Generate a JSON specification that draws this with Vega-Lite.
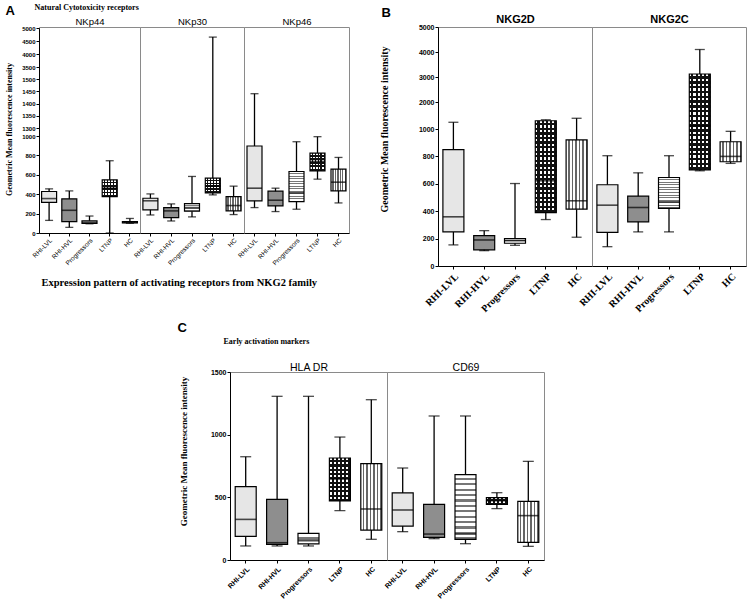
{
"$schema":"https://vega.github.io/schema/vega-lite/v6.json",
"padding":{"left":4,"top":2,"right":0,"bottom":0},
"background":"white",
"datasets":{"d":[
{"m":"NKp44","g":"RHI-LVL","lo":130,"q1":315,"med":355,"q3":428,"hi":455},
{"m":"NKp44","g":"RHI-HVL","lo":58,"q1":117,"med":234,"q3":352,"hi":434},
{"m":"NKp44","g":"Progressors","lo":95,"q1":100,"med":110,"q3":125,"hi":175},
{"m":"NKp44","g":"LTNP","lo":0,"q1":376,"med":462,"q3":548,"hi":745},
{"m":"NKp44","g":"HC","lo":100,"q1":103,"med":110,"q3":117,"hi":150},
{"m":"NKp30","g":"RHI-LVL","lo":186,"q1":238,"med":332,"q3":358,"hi":403},
{"m":"NKp30","g":"RHI-HVL","lo":124,"q1":159,"med":228,"q3":262,"hi":300},
{"m":"NKp30","g":"Progressors","lo":166,"q1":224,"med":262,"q3":303,"hi":583},
{"m":"NKp30","g":"LTNP","lo":393,"q1":414,"med":483,"q3":566,"hi":4650},
{"m":"NKp30","g":"HC","lo":190,"q1":228,"med":283,"q3":376,"hi":483},
{"m":"NKp46","g":"RHI-LVL","lo":262,"q1":331,"med":462,"q3":897,"hi":1440},
{"m":"NKp46","g":"RHI-HVL","lo":221,"q1":279,"med":338,"q3":431,"hi":462},
{"m":"NKp46","g":"Progressors","lo":245,"q1":324,"med":414,"q3":634,"hi":941},
{"m":"NKp46","g":"LTNP","lo":555,"q1":641,"med":738,"q3":824,"hi":993},
{"m":"NKp46","g":"HC","lo":310,"q1":434,"med":524,"q3":659,"hi":779},
{"m":"NKG2D","g":"RHI-LVL","lo":154,"q1":249,"med":359,"q3":849,"hi":1190},
{"m":"NKG2D","g":"RHI-HVL","lo":112,"q1":118,"med":190,"q3":222,"hi":258},
{"m":"NKG2D","g":"Progressors","lo":151,"q1":166,"med":185,"q3":200,"hi":602},
{"m":"NKG2D","g":"LTNP","lo":339,"q1":390,"med":622,"q3":1250,"hi":1290},
{"m":"NKG2D","g":"HC","lo":210,"q1":415,"med":476,"q3":920,"hi":1350},
{"m":"NKG2C","g":"RHI-LVL","lo":141,"q1":246,"med":444,"q3":593,"hi":805},
{"m":"NKG2C","g":"RHI-HVL","lo":249,"q1":322,"med":427,"q3":510,"hi":680},
{"m":"NKG2C","g":"Progressors","lo":249,"q1":420,"med":468,"q3":646,"hi":805},
{"m":"NKG2C","g":"LTNP","lo":695,"q1":702,"med":1050,"q3":3120,"hi":4100},
{"m":"NKG2C","g":"HC","lo":749,"q1":761,"med":800,"q3":907,"hi":983},
{"m":"HLA DR","g":"RHI-LVL","lo":112,"q1":189,"med":324,"q3":585,"hi":824},
{"m":"HLA DR","g":"RHI-HVL","lo":112,"q1":125,"med":138,"q3":484,"hi":1306},
{"m":"HLA DR","g":"Progressors","lo":112,"q1":128,"med":154,"q3":213,"hi":1306},
{"m":"HLA DR","g":"LTNP","lo":394,"q1":471,"med":646,"q3":814,"hi":981},
{"m":"HLA DR","g":"HC","lo":165,"q1":239,"med":407,"q3":769,"hi":1279},
{"m":"CD69","g":"RHI-LVL","lo":226,"q1":271,"med":399,"q3":535,"hi":734},
{"m":"CD69","g":"RHI-HVL","lo":170,"q1":181,"med":207,"q3":444,"hi":1149},
{"m":"CD69","g":"Progressors","lo":130,"q1":165,"med":207,"q3":681,"hi":1149},
{"m":"CD69","g":"LTNP","lo":410,"q1":444,"med":473,"q3":497,"hi":537},
{"m":"CD69","g":"HC","lo":109,"q1":141,"med":354,"q3":468,"hi":787}
]},
"data":{"name":"d"},
"bounds":"flush",
"spacing":345,
"vconcat":[
{"spacing":0,"bounds":"flush","hconcat":[
{"width":101,"height":206,"transform":[{"filter":"datum.m==='NKp44'"}],
"resolve":{"axis":{"x":"independent","y":"independent"}},
"layer":[
{"mark":{"type":"rule","color":"black","strokeWidth":1.3},"encoding":{"x":{"field":"g","type":"nominal","scale":{"type":"band","domain":["RHI-LVL","RHI-HVL","Progressors","LTNP","HC"],"paddingInner":0,"paddingOuter":0},"axis":{"title":null,"labelAngle":-45,"labelFont":"Liberation Sans","labelFontSize":6.5,"tickSize":3,"labelPadding":1}},"y":{"field":"lo","type":"quantitative","scale":{"domain":[0,1000,1300,1500,3500,5000],"range":[206,109,101,52,40,1],"nice":false,"zero":false},"axis":{"values":[0,200,400,600,800,1000,1300,1350,1400,1450,1500,3500,4000,4500,5000],"format":"d","title":"Geometric Mean fluorescence intensity","titleFont":"Liberation Serif","titleFontSize":8,"titleFontWeight":"bold","titleX":-30,"titleY":102,"titleAlign":"center","titleBaseline":"middle","titleAngle":-90,"labelFont":"Liberation Sans","labelFontSize":6,"labelFontWeight":"bold","tickSize":3,"labelPadding":1}},"y2":{"field":"hi"}}},
{"mark":{"type":"bar","size":15},"encoding":{"x":{"field":"g","type":"nominal","scale":{"type":"band","domain":["RHI-LVL","RHI-HVL","Progressors","LTNP","HC"],"paddingInner":0,"paddingOuter":0},"axis":null},"y":{"field":"q1","type":"quantitative","scale":{"domain":[0,1000,1300,1500,3500,5000],"range":[206,109,101,52,40,1],"nice":false,"zero":false},"axis":null},"y2":{"field":"q3"},"color":{"field":"g","type":"nominal","scale":{"domain":["RHI-LVL","RHI-HVL","Progressors","LTNP","HC"],"range":["#e6e6e6","#8e8e8e","#ffffff","#ffffff","#ffffff"]},"legend":null}}},
{"transform":[{"filter":"datum.g==='Progressors'"}],"mark":{"type":"bar","size":15,"fill":{"gradient":"linear","x1":0,"y1":0,"x2":0,"y2":1,"stops":[{"offset":0,"color":"#fff"},{"offset":0.05,"color":"#fff"},{"offset":0.05,"color":"#777"},{"offset":0.0833,"color":"#777"},{"offset":0.0833,"color":"#fff"},{"offset":0.1333,"color":"#fff"},{"offset":0.1333,"color":"#777"},{"offset":0.1667,"color":"#777"},{"offset":0.1667,"color":"#fff"},{"offset":0.2167,"color":"#fff"},{"offset":0.2167,"color":"#777"},{"offset":0.25,"color":"#777"},{"offset":0.25,"color":"#fff"},{"offset":0.3,"color":"#fff"},{"offset":0.3,"color":"#777"},{"offset":0.3333,"color":"#777"},{"offset":0.3333,"color":"#fff"},{"offset":0.3833,"color":"#fff"},{"offset":0.3833,"color":"#777"},{"offset":0.4167,"color":"#777"},{"offset":0.4167,"color":"#fff"},{"offset":0.4667,"color":"#fff"},{"offset":0.4667,"color":"#777"},{"offset":0.5,"color":"#777"},{"offset":0.5,"color":"#fff"},{"offset":0.55,"color":"#fff"},{"offset":0.55,"color":"#777"},{"offset":0.5833,"color":"#777"},{"offset":0.5833,"color":"#fff"},{"offset":0.6333,"color":"#fff"},{"offset":0.6333,"color":"#777"},{"offset":0.6667,"color":"#777"},{"offset":0.6667,"color":"#fff"},{"offset":0.7167,"color":"#fff"},{"offset":0.7167,"color":"#777"},{"offset":0.75,"color":"#777"},{"offset":0.75,"color":"#fff"},{"offset":0.8,"color":"#fff"},{"offset":0.8,"color":"#777"},{"offset":0.8333,"color":"#777"},{"offset":0.8333,"color":"#fff"},{"offset":0.8833,"color":"#fff"},{"offset":0.8833,"color":"#777"},{"offset":0.9167,"color":"#777"},{"offset":0.9167,"color":"#fff"},{"offset":0.9667,"color":"#fff"},{"offset":0.9667,"color":"#777"},{"offset":1,"color":"#777"}]}},"encoding":{"x":{"field":"g","type":"nominal","scale":{"type":"band","domain":["RHI-LVL","RHI-HVL","Progressors","LTNP","HC"],"paddingInner":0,"paddingOuter":0},"axis":null},"y":{"field":"q1","type":"quantitative","scale":{"domain":[0,1000,1300,1500,3500,5000],"range":[206,109,101,52,40,1],"nice":false,"zero":false},"axis":null},"y2":{"field":"q3"}}},
{"transform":[{"filter":"datum.g==='HC'"}],"mark":{"type":"bar","size":15,"fill":{"gradient":"linear","x1":0,"y1":0,"x2":1,"y2":0,"stops":[{"offset":0,"color":"#fff"},{"offset":0.0917,"color":"#fff"},{"offset":0.0917,"color":"#666"},{"offset":0.1667,"color":"#666"},{"offset":0.1667,"color":"#fff"},{"offset":0.2583,"color":"#fff"},{"offset":0.2583,"color":"#666"},{"offset":0.3333,"color":"#666"},{"offset":0.3333,"color":"#fff"},{"offset":0.425,"color":"#fff"},{"offset":0.425,"color":"#666"},{"offset":0.5,"color":"#666"},{"offset":0.5,"color":"#fff"},{"offset":0.5917,"color":"#fff"},{"offset":0.5917,"color":"#666"},{"offset":0.6667,"color":"#666"},{"offset":0.6667,"color":"#fff"},{"offset":0.7583,"color":"#fff"},{"offset":0.7583,"color":"#666"},{"offset":0.8333,"color":"#666"},{"offset":0.8333,"color":"#fff"},{"offset":0.925,"color":"#fff"},{"offset":0.925,"color":"#666"},{"offset":1,"color":"#666"}]}},"encoding":{"x":{"field":"g","type":"nominal","scale":{"type":"band","domain":["RHI-LVL","RHI-HVL","Progressors","LTNP","HC"],"paddingInner":0,"paddingOuter":0},"axis":null},"y":{"field":"q1","type":"quantitative","scale":{"domain":[0,1000,1300,1500,3500,5000],"range":[206,109,101,52,40,1],"nice":false,"zero":false},"axis":null},"y2":{"field":"q3"}}},
{"transform":[{"filter":"datum.g==='LTNP'"}],"mark":{"type":"bar","size":15,"fill":{"gradient":"linear","x1":0,"y1":0,"x2":0,"y2":1,"stops":[{"offset":0,"color":"transparent"},{"offset":0.1,"color":"transparent"},{"offset":0.1,"color":"#111"},{"offset":0.2,"color":"#111"},{"offset":0.2,"color":"transparent"},{"offset":0.3,"color":"transparent"},{"offset":0.3,"color":"#111"},{"offset":0.4,"color":"#111"},{"offset":0.4,"color":"transparent"},{"offset":0.5,"color":"transparent"},{"offset":0.5,"color":"#111"},{"offset":0.6,"color":"#111"},{"offset":0.6,"color":"transparent"},{"offset":0.7,"color":"transparent"},{"offset":0.7,"color":"#111"},{"offset":0.8,"color":"#111"},{"offset":0.8,"color":"transparent"},{"offset":0.9,"color":"transparent"},{"offset":0.9,"color":"#111"},{"offset":1,"color":"#111"}]}},"encoding":{"x":{"field":"g","type":"nominal","scale":{"type":"band","domain":["RHI-LVL","RHI-HVL","Progressors","LTNP","HC"],"paddingInner":0,"paddingOuter":0},"axis":null},"y":{"field":"q1","type":"quantitative","scale":{"domain":[0,1000,1300,1500,3500,5000],"range":[206,109,101,52,40,1],"nice":false,"zero":false},"axis":null},"y2":{"field":"q3"}}},
{"transform":[{"filter":"datum.g==='LTNP'"}],"mark":{"type":"bar","size":15,"fill":{"gradient":"linear","x1":0,"y1":0,"x2":1,"y2":0,"stops":[{"offset":0,"color":"transparent"},{"offset":0.1,"color":"transparent"},{"offset":0.1,"color":"#111"},{"offset":0.2,"color":"#111"},{"offset":0.2,"color":"transparent"},{"offset":0.3,"color":"transparent"},{"offset":0.3,"color":"#111"},{"offset":0.4,"color":"#111"},{"offset":0.4,"color":"transparent"},{"offset":0.5,"color":"transparent"},{"offset":0.5,"color":"#111"},{"offset":0.6,"color":"#111"},{"offset":0.6,"color":"transparent"},{"offset":0.7,"color":"transparent"},{"offset":0.7,"color":"#111"},{"offset":0.8,"color":"#111"},{"offset":0.8,"color":"transparent"},{"offset":0.9,"color":"transparent"},{"offset":0.9,"color":"#111"},{"offset":1,"color":"#111"}]}},"encoding":{"x":{"field":"g","type":"nominal","scale":{"type":"band","domain":["RHI-LVL","RHI-HVL","Progressors","LTNP","HC"],"paddingInner":0,"paddingOuter":0},"axis":null},"y":{"field":"q1","type":"quantitative","scale":{"domain":[0,1000,1300,1500,3500,5000],"range":[206,109,101,52,40,1],"nice":false,"zero":false},"axis":null},"y2":{"field":"q3"}}},
{"mark":{"type":"bar","size":15,"fillOpacity":0,"stroke":"black","strokeWidth":1.2},"encoding":{"x":{"field":"g","type":"nominal","scale":{"type":"band","domain":["RHI-LVL","RHI-HVL","Progressors","LTNP","HC"],"paddingInner":0,"paddingOuter":0},"axis":null},"y":{"field":"q1","type":"quantitative","scale":{"domain":[0,1000,1300,1500,3500,5000],"range":[206,109,101,52,40,1],"nice":false,"zero":false},"axis":null},"y2":{"field":"q3"}}},
{"mark":{"type":"tick","size":15,"thickness":1.6,"color":"black"},"encoding":{"x":{"field":"g","type":"nominal","scale":{"type":"band","domain":["RHI-LVL","RHI-HVL","Progressors","LTNP","HC"],"paddingInner":0,"paddingOuter":0},"axis":null},"y":{"field":"med","type":"quantitative","scale":{"domain":[0,1000,1300,1500,3500,5000],"range":[206,109,101,52,40,1],"nice":false,"zero":false},"axis":null}}},
{"mark":{"type":"tick","size":8,"thickness":1.3,"color":"black"},"encoding":{"x":{"field":"g","type":"nominal","scale":{"type":"band","domain":["RHI-LVL","RHI-HVL","Progressors","LTNP","HC"],"paddingInner":0,"paddingOuter":0},"axis":null},"y":{"field":"lo","type":"quantitative","scale":{"domain":[0,1000,1300,1500,3500,5000],"range":[206,109,101,52,40,1],"nice":false,"zero":false},"axis":null}}},
{"mark":{"type":"tick","size":8,"thickness":1.3,"color":"black"},"encoding":{"x":{"field":"g","type":"nominal","scale":{"type":"band","domain":["RHI-LVL","RHI-HVL","Progressors","LTNP","HC"],"paddingInner":0,"paddingOuter":0},"axis":null},"y":{"field":"hi","type":"quantitative","scale":{"domain":[0,1000,1300,1500,3500,5000],"range":[206,109,101,52,40,1],"nice":false,"zero":false},"axis":null}}},
{"mark":{"type":"point","opacity":0},"encoding":{"x":{"field":"g","type":"nominal","scale":{"type":"band","domain":["RHI-LVL","RHI-HVL","Progressors","LTNP","HC"],"paddingInner":0,"paddingOuter":0},"axis":{"orient":"top","title":"NKp44","labels":false,"ticks":false,"domain":false,"titleX":50.5,"titleY":-3,"titleAlign":"center","titleBaseline":"alphabetic","titleFont":"Liberation Sans","titleFontSize":9.5,"titleFontWeight":"normal"}},"y":{"field":"lo","type":"quantitative","scale":{"domain":[0,1000,1300,1500,3500,5000],"range":[206,109,101,52,40,1],"nice":false,"zero":false},"axis":{"orient":"right","title":"A","labels":false,"ticks":false,"domain":false,"titleAngle":0,"titleX":-135,"titleY":-13,"titleAlign":"left","titleBaseline":"alphabetic","titleFont":"Liberation Sans","titleFontSize":13,"titleFontWeight":"bold"}}}}
]},
{"width":104,"height":206,"transform":[{"filter":"datum.m==='NKp30'"}],
"resolve":{"axis":{"x":"independent","y":"independent"}},
"layer":[
{"mark":{"type":"rule","color":"black","strokeWidth":1.3},"encoding":{"x":{"field":"g","type":"nominal","scale":{"type":"band","domain":["RHI-LVL","RHI-HVL","Progressors","LTNP","HC"],"paddingInner":0,"paddingOuter":0},"axis":{"title":"Expression pattern of activating receptors from NKG2 family","titleFont":"Liberation Serif","titleFontSize":10.5,"titleFontWeight":"bold","titleX":-99,"titleY":52,"titleAlign":"left","titleBaseline":"alphabetic","titleAngle":0,"labelAngle":-45,"labelFont":"Liberation Sans","labelFontSize":6.5,"tickSize":3,"labelPadding":1}},"y":{"field":"lo","type":"quantitative","scale":{"domain":[0,1000,1300,1500,3500,5000],"range":[206,109,101,52,40,1],"nice":false,"zero":false},"axis":null},"y2":{"field":"hi"}}},
{"mark":{"type":"bar","size":15},"encoding":{"x":{"field":"g","type":"nominal","scale":{"type":"band","domain":["RHI-LVL","RHI-HVL","Progressors","LTNP","HC"],"paddingInner":0,"paddingOuter":0},"axis":null},"y":{"field":"q1","type":"quantitative","scale":{"domain":[0,1000,1300,1500,3500,5000],"range":[206,109,101,52,40,1],"nice":false,"zero":false},"axis":null},"y2":{"field":"q3"},"color":{"field":"g","type":"nominal","scale":{"domain":["RHI-LVL","RHI-HVL","Progressors","LTNP","HC"],"range":["#e6e6e6","#8e8e8e","#ffffff","#ffffff","#ffffff"]},"legend":null}}},
{"transform":[{"filter":"datum.g==='Progressors'"}],"mark":{"type":"bar","size":15,"fill":{"gradient":"linear","x1":0,"y1":0,"x2":0,"y2":1,"stops":[{"offset":0,"color":"#fff"},{"offset":0.05,"color":"#fff"},{"offset":0.05,"color":"#777"},{"offset":0.0833,"color":"#777"},{"offset":0.0833,"color":"#fff"},{"offset":0.1333,"color":"#fff"},{"offset":0.1333,"color":"#777"},{"offset":0.1667,"color":"#777"},{"offset":0.1667,"color":"#fff"},{"offset":0.2167,"color":"#fff"},{"offset":0.2167,"color":"#777"},{"offset":0.25,"color":"#777"},{"offset":0.25,"color":"#fff"},{"offset":0.3,"color":"#fff"},{"offset":0.3,"color":"#777"},{"offset":0.3333,"color":"#777"},{"offset":0.3333,"color":"#fff"},{"offset":0.3833,"color":"#fff"},{"offset":0.3833,"color":"#777"},{"offset":0.4167,"color":"#777"},{"offset":0.4167,"color":"#fff"},{"offset":0.4667,"color":"#fff"},{"offset":0.4667,"color":"#777"},{"offset":0.5,"color":"#777"},{"offset":0.5,"color":"#fff"},{"offset":0.55,"color":"#fff"},{"offset":0.55,"color":"#777"},{"offset":0.5833,"color":"#777"},{"offset":0.5833,"color":"#fff"},{"offset":0.6333,"color":"#fff"},{"offset":0.6333,"color":"#777"},{"offset":0.6667,"color":"#777"},{"offset":0.6667,"color":"#fff"},{"offset":0.7167,"color":"#fff"},{"offset":0.7167,"color":"#777"},{"offset":0.75,"color":"#777"},{"offset":0.75,"color":"#fff"},{"offset":0.8,"color":"#fff"},{"offset":0.8,"color":"#777"},{"offset":0.8333,"color":"#777"},{"offset":0.8333,"color":"#fff"},{"offset":0.8833,"color":"#fff"},{"offset":0.8833,"color":"#777"},{"offset":0.9167,"color":"#777"},{"offset":0.9167,"color":"#fff"},{"offset":0.9667,"color":"#fff"},{"offset":0.9667,"color":"#777"},{"offset":1,"color":"#777"}]}},"encoding":{"x":{"field":"g","type":"nominal","scale":{"type":"band","domain":["RHI-LVL","RHI-HVL","Progressors","LTNP","HC"],"paddingInner":0,"paddingOuter":0},"axis":null},"y":{"field":"q1","type":"quantitative","scale":{"domain":[0,1000,1300,1500,3500,5000],"range":[206,109,101,52,40,1],"nice":false,"zero":false},"axis":null},"y2":{"field":"q3"}}},
{"transform":[{"filter":"datum.g==='HC'"}],"mark":{"type":"bar","size":15,"fill":{"gradient":"linear","x1":0,"y1":0,"x2":1,"y2":0,"stops":[{"offset":0,"color":"#fff"},{"offset":0.0917,"color":"#fff"},{"offset":0.0917,"color":"#666"},{"offset":0.1667,"color":"#666"},{"offset":0.1667,"color":"#fff"},{"offset":0.2583,"color":"#fff"},{"offset":0.2583,"color":"#666"},{"offset":0.3333,"color":"#666"},{"offset":0.3333,"color":"#fff"},{"offset":0.425,"color":"#fff"},{"offset":0.425,"color":"#666"},{"offset":0.5,"color":"#666"},{"offset":0.5,"color":"#fff"},{"offset":0.5917,"color":"#fff"},{"offset":0.5917,"color":"#666"},{"offset":0.6667,"color":"#666"},{"offset":0.6667,"color":"#fff"},{"offset":0.7583,"color":"#fff"},{"offset":0.7583,"color":"#666"},{"offset":0.8333,"color":"#666"},{"offset":0.8333,"color":"#fff"},{"offset":0.925,"color":"#fff"},{"offset":0.925,"color":"#666"},{"offset":1,"color":"#666"}]}},"encoding":{"x":{"field":"g","type":"nominal","scale":{"type":"band","domain":["RHI-LVL","RHI-HVL","Progressors","LTNP","HC"],"paddingInner":0,"paddingOuter":0},"axis":null},"y":{"field":"q1","type":"quantitative","scale":{"domain":[0,1000,1300,1500,3500,5000],"range":[206,109,101,52,40,1],"nice":false,"zero":false},"axis":null},"y2":{"field":"q3"}}},
{"transform":[{"filter":"datum.g==='LTNP'"}],"mark":{"type":"bar","size":15,"fill":{"gradient":"linear","x1":0,"y1":0,"x2":0,"y2":1,"stops":[{"offset":0,"color":"transparent"},{"offset":0.1,"color":"transparent"},{"offset":0.1,"color":"#111"},{"offset":0.2,"color":"#111"},{"offset":0.2,"color":"transparent"},{"offset":0.3,"color":"transparent"},{"offset":0.3,"color":"#111"},{"offset":0.4,"color":"#111"},{"offset":0.4,"color":"transparent"},{"offset":0.5,"color":"transparent"},{"offset":0.5,"color":"#111"},{"offset":0.6,"color":"#111"},{"offset":0.6,"color":"transparent"},{"offset":0.7,"color":"transparent"},{"offset":0.7,"color":"#111"},{"offset":0.8,"color":"#111"},{"offset":0.8,"color":"transparent"},{"offset":0.9,"color":"transparent"},{"offset":0.9,"color":"#111"},{"offset":1,"color":"#111"}]}},"encoding":{"x":{"field":"g","type":"nominal","scale":{"type":"band","domain":["RHI-LVL","RHI-HVL","Progressors","LTNP","HC"],"paddingInner":0,"paddingOuter":0},"axis":null},"y":{"field":"q1","type":"quantitative","scale":{"domain":[0,1000,1300,1500,3500,5000],"range":[206,109,101,52,40,1],"nice":false,"zero":false},"axis":null},"y2":{"field":"q3"}}},
{"transform":[{"filter":"datum.g==='LTNP'"}],"mark":{"type":"bar","size":15,"fill":{"gradient":"linear","x1":0,"y1":0,"x2":1,"y2":0,"stops":[{"offset":0,"color":"transparent"},{"offset":0.1,"color":"transparent"},{"offset":0.1,"color":"#111"},{"offset":0.2,"color":"#111"},{"offset":0.2,"color":"transparent"},{"offset":0.3,"color":"transparent"},{"offset":0.3,"color":"#111"},{"offset":0.4,"color":"#111"},{"offset":0.4,"color":"transparent"},{"offset":0.5,"color":"transparent"},{"offset":0.5,"color":"#111"},{"offset":0.6,"color":"#111"},{"offset":0.6,"color":"transparent"},{"offset":0.7,"color":"transparent"},{"offset":0.7,"color":"#111"},{"offset":0.8,"color":"#111"},{"offset":0.8,"color":"transparent"},{"offset":0.9,"color":"transparent"},{"offset":0.9,"color":"#111"},{"offset":1,"color":"#111"}]}},"encoding":{"x":{"field":"g","type":"nominal","scale":{"type":"band","domain":["RHI-LVL","RHI-HVL","Progressors","LTNP","HC"],"paddingInner":0,"paddingOuter":0},"axis":null},"y":{"field":"q1","type":"quantitative","scale":{"domain":[0,1000,1300,1500,3500,5000],"range":[206,109,101,52,40,1],"nice":false,"zero":false},"axis":null},"y2":{"field":"q3"}}},
{"mark":{"type":"bar","size":15,"fillOpacity":0,"stroke":"black","strokeWidth":1.2},"encoding":{"x":{"field":"g","type":"nominal","scale":{"type":"band","domain":["RHI-LVL","RHI-HVL","Progressors","LTNP","HC"],"paddingInner":0,"paddingOuter":0},"axis":null},"y":{"field":"q1","type":"quantitative","scale":{"domain":[0,1000,1300,1500,3500,5000],"range":[206,109,101,52,40,1],"nice":false,"zero":false},"axis":null},"y2":{"field":"q3"}}},
{"mark":{"type":"tick","size":15,"thickness":1.6,"color":"black"},"encoding":{"x":{"field":"g","type":"nominal","scale":{"type":"band","domain":["RHI-LVL","RHI-HVL","Progressors","LTNP","HC"],"paddingInner":0,"paddingOuter":0},"axis":null},"y":{"field":"med","type":"quantitative","scale":{"domain":[0,1000,1300,1500,3500,5000],"range":[206,109,101,52,40,1],"nice":false,"zero":false},"axis":null}}},
{"mark":{"type":"tick","size":8,"thickness":1.3,"color":"black"},"encoding":{"x":{"field":"g","type":"nominal","scale":{"type":"band","domain":["RHI-LVL","RHI-HVL","Progressors","LTNP","HC"],"paddingInner":0,"paddingOuter":0},"axis":null},"y":{"field":"lo","type":"quantitative","scale":{"domain":[0,1000,1300,1500,3500,5000],"range":[206,109,101,52,40,1],"nice":false,"zero":false},"axis":null}}},
{"mark":{"type":"tick","size":8,"thickness":1.3,"color":"black"},"encoding":{"x":{"field":"g","type":"nominal","scale":{"type":"band","domain":["RHI-LVL","RHI-HVL","Progressors","LTNP","HC"],"paddingInner":0,"paddingOuter":0},"axis":null},"y":{"field":"hi","type":"quantitative","scale":{"domain":[0,1000,1300,1500,3500,5000],"range":[206,109,101,52,40,1],"nice":false,"zero":false},"axis":null}}},
{"mark":{"type":"point","opacity":0},"encoding":{"x":{"field":"g","type":"nominal","scale":{"type":"band","domain":["RHI-LVL","RHI-HVL","Progressors","LTNP","HC"],"paddingInner":0,"paddingOuter":0},"axis":{"orient":"top","title":"NKp30","labels":false,"ticks":false,"domain":false,"titleX":52,"titleY":-3,"titleAlign":"center","titleBaseline":"alphabetic","titleFont":"Liberation Sans","titleFontSize":9.5,"titleFontWeight":"normal"}},"y":{"field":"lo","type":"quantitative","scale":{"domain":[0,1000,1300,1500,3500,5000],"range":[206,109,101,52,40,1],"nice":false,"zero":false},"axis":{"orient":"right","title":"Natural Cytotoxicity receptors","labels":false,"ticks":false,"domain":false,"titleAngle":0,"titleX":-210,"titleY":-18,"titleAlign":"left","titleBaseline":"alphabetic","titleFont":"Liberation Serif","titleFontSize":8,"titleFontWeight":"bold"}}}}
]},
{"width":105,"height":206,"transform":[{"filter":"datum.m==='NKp46'"}],
"resolve":{"axis":{"x":"independent","y":"independent"}},
"layer":[
{"mark":{"type":"rule","color":"black","strokeWidth":1.3},"encoding":{"x":{"field":"g","type":"nominal","scale":{"type":"band","domain":["RHI-LVL","RHI-HVL","Progressors","LTNP","HC"],"paddingInner":0,"paddingOuter":0},"axis":{"title":null,"labelAngle":-45,"labelFont":"Liberation Sans","labelFontSize":6.5,"tickSize":3,"labelPadding":1}},"y":{"field":"lo","type":"quantitative","scale":{"domain":[0,1000,1300,1500,3500,5000],"range":[206,109,101,52,40,1],"nice":false,"zero":false},"axis":null},"y2":{"field":"hi"}}},
{"mark":{"type":"bar","size":15},"encoding":{"x":{"field":"g","type":"nominal","scale":{"type":"band","domain":["RHI-LVL","RHI-HVL","Progressors","LTNP","HC"],"paddingInner":0,"paddingOuter":0},"axis":null},"y":{"field":"q1","type":"quantitative","scale":{"domain":[0,1000,1300,1500,3500,5000],"range":[206,109,101,52,40,1],"nice":false,"zero":false},"axis":null},"y2":{"field":"q3"},"color":{"field":"g","type":"nominal","scale":{"domain":["RHI-LVL","RHI-HVL","Progressors","LTNP","HC"],"range":["#e6e6e6","#8e8e8e","#ffffff","#ffffff","#ffffff"]},"legend":null}}},
{"transform":[{"filter":"datum.g==='Progressors'"}],"mark":{"type":"bar","size":15,"fill":{"gradient":"linear","x1":0,"y1":0,"x2":0,"y2":1,"stops":[{"offset":0,"color":"#fff"},{"offset":0.05,"color":"#fff"},{"offset":0.05,"color":"#777"},{"offset":0.0833,"color":"#777"},{"offset":0.0833,"color":"#fff"},{"offset":0.1333,"color":"#fff"},{"offset":0.1333,"color":"#777"},{"offset":0.1667,"color":"#777"},{"offset":0.1667,"color":"#fff"},{"offset":0.2167,"color":"#fff"},{"offset":0.2167,"color":"#777"},{"offset":0.25,"color":"#777"},{"offset":0.25,"color":"#fff"},{"offset":0.3,"color":"#fff"},{"offset":0.3,"color":"#777"},{"offset":0.3333,"color":"#777"},{"offset":0.3333,"color":"#fff"},{"offset":0.3833,"color":"#fff"},{"offset":0.3833,"color":"#777"},{"offset":0.4167,"color":"#777"},{"offset":0.4167,"color":"#fff"},{"offset":0.4667,"color":"#fff"},{"offset":0.4667,"color":"#777"},{"offset":0.5,"color":"#777"},{"offset":0.5,"color":"#fff"},{"offset":0.55,"color":"#fff"},{"offset":0.55,"color":"#777"},{"offset":0.5833,"color":"#777"},{"offset":0.5833,"color":"#fff"},{"offset":0.6333,"color":"#fff"},{"offset":0.6333,"color":"#777"},{"offset":0.6667,"color":"#777"},{"offset":0.6667,"color":"#fff"},{"offset":0.7167,"color":"#fff"},{"offset":0.7167,"color":"#777"},{"offset":0.75,"color":"#777"},{"offset":0.75,"color":"#fff"},{"offset":0.8,"color":"#fff"},{"offset":0.8,"color":"#777"},{"offset":0.8333,"color":"#777"},{"offset":0.8333,"color":"#fff"},{"offset":0.8833,"color":"#fff"},{"offset":0.8833,"color":"#777"},{"offset":0.9167,"color":"#777"},{"offset":0.9167,"color":"#fff"},{"offset":0.9667,"color":"#fff"},{"offset":0.9667,"color":"#777"},{"offset":1,"color":"#777"}]}},"encoding":{"x":{"field":"g","type":"nominal","scale":{"type":"band","domain":["RHI-LVL","RHI-HVL","Progressors","LTNP","HC"],"paddingInner":0,"paddingOuter":0},"axis":null},"y":{"field":"q1","type":"quantitative","scale":{"domain":[0,1000,1300,1500,3500,5000],"range":[206,109,101,52,40,1],"nice":false,"zero":false},"axis":null},"y2":{"field":"q3"}}},
{"transform":[{"filter":"datum.g==='HC'"}],"mark":{"type":"bar","size":15,"fill":{"gradient":"linear","x1":0,"y1":0,"x2":1,"y2":0,"stops":[{"offset":0,"color":"#fff"},{"offset":0.0917,"color":"#fff"},{"offset":0.0917,"color":"#666"},{"offset":0.1667,"color":"#666"},{"offset":0.1667,"color":"#fff"},{"offset":0.2583,"color":"#fff"},{"offset":0.2583,"color":"#666"},{"offset":0.3333,"color":"#666"},{"offset":0.3333,"color":"#fff"},{"offset":0.425,"color":"#fff"},{"offset":0.425,"color":"#666"},{"offset":0.5,"color":"#666"},{"offset":0.5,"color":"#fff"},{"offset":0.5917,"color":"#fff"},{"offset":0.5917,"color":"#666"},{"offset":0.6667,"color":"#666"},{"offset":0.6667,"color":"#fff"},{"offset":0.7583,"color":"#fff"},{"offset":0.7583,"color":"#666"},{"offset":0.8333,"color":"#666"},{"offset":0.8333,"color":"#fff"},{"offset":0.925,"color":"#fff"},{"offset":0.925,"color":"#666"},{"offset":1,"color":"#666"}]}},"encoding":{"x":{"field":"g","type":"nominal","scale":{"type":"band","domain":["RHI-LVL","RHI-HVL","Progressors","LTNP","HC"],"paddingInner":0,"paddingOuter":0},"axis":null},"y":{"field":"q1","type":"quantitative","scale":{"domain":[0,1000,1300,1500,3500,5000],"range":[206,109,101,52,40,1],"nice":false,"zero":false},"axis":null},"y2":{"field":"q3"}}},
{"transform":[{"filter":"datum.g==='LTNP'"}],"mark":{"type":"bar","size":15,"fill":{"gradient":"linear","x1":0,"y1":0,"x2":0,"y2":1,"stops":[{"offset":0,"color":"transparent"},{"offset":0.1,"color":"transparent"},{"offset":0.1,"color":"#111"},{"offset":0.2,"color":"#111"},{"offset":0.2,"color":"transparent"},{"offset":0.3,"color":"transparent"},{"offset":0.3,"color":"#111"},{"offset":0.4,"color":"#111"},{"offset":0.4,"color":"transparent"},{"offset":0.5,"color":"transparent"},{"offset":0.5,"color":"#111"},{"offset":0.6,"color":"#111"},{"offset":0.6,"color":"transparent"},{"offset":0.7,"color":"transparent"},{"offset":0.7,"color":"#111"},{"offset":0.8,"color":"#111"},{"offset":0.8,"color":"transparent"},{"offset":0.9,"color":"transparent"},{"offset":0.9,"color":"#111"},{"offset":1,"color":"#111"}]}},"encoding":{"x":{"field":"g","type":"nominal","scale":{"type":"band","domain":["RHI-LVL","RHI-HVL","Progressors","LTNP","HC"],"paddingInner":0,"paddingOuter":0},"axis":null},"y":{"field":"q1","type":"quantitative","scale":{"domain":[0,1000,1300,1500,3500,5000],"range":[206,109,101,52,40,1],"nice":false,"zero":false},"axis":null},"y2":{"field":"q3"}}},
{"transform":[{"filter":"datum.g==='LTNP'"}],"mark":{"type":"bar","size":15,"fill":{"gradient":"linear","x1":0,"y1":0,"x2":1,"y2":0,"stops":[{"offset":0,"color":"transparent"},{"offset":0.1,"color":"transparent"},{"offset":0.1,"color":"#111"},{"offset":0.2,"color":"#111"},{"offset":0.2,"color":"transparent"},{"offset":0.3,"color":"transparent"},{"offset":0.3,"color":"#111"},{"offset":0.4,"color":"#111"},{"offset":0.4,"color":"transparent"},{"offset":0.5,"color":"transparent"},{"offset":0.5,"color":"#111"},{"offset":0.6,"color":"#111"},{"offset":0.6,"color":"transparent"},{"offset":0.7,"color":"transparent"},{"offset":0.7,"color":"#111"},{"offset":0.8,"color":"#111"},{"offset":0.8,"color":"transparent"},{"offset":0.9,"color":"transparent"},{"offset":0.9,"color":"#111"},{"offset":1,"color":"#111"}]}},"encoding":{"x":{"field":"g","type":"nominal","scale":{"type":"band","domain":["RHI-LVL","RHI-HVL","Progressors","LTNP","HC"],"paddingInner":0,"paddingOuter":0},"axis":null},"y":{"field":"q1","type":"quantitative","scale":{"domain":[0,1000,1300,1500,3500,5000],"range":[206,109,101,52,40,1],"nice":false,"zero":false},"axis":null},"y2":{"field":"q3"}}},
{"mark":{"type":"bar","size":15,"fillOpacity":0,"stroke":"black","strokeWidth":1.2},"encoding":{"x":{"field":"g","type":"nominal","scale":{"type":"band","domain":["RHI-LVL","RHI-HVL","Progressors","LTNP","HC"],"paddingInner":0,"paddingOuter":0},"axis":null},"y":{"field":"q1","type":"quantitative","scale":{"domain":[0,1000,1300,1500,3500,5000],"range":[206,109,101,52,40,1],"nice":false,"zero":false},"axis":null},"y2":{"field":"q3"}}},
{"mark":{"type":"tick","size":15,"thickness":1.6,"color":"black"},"encoding":{"x":{"field":"g","type":"nominal","scale":{"type":"band","domain":["RHI-LVL","RHI-HVL","Progressors","LTNP","HC"],"paddingInner":0,"paddingOuter":0},"axis":null},"y":{"field":"med","type":"quantitative","scale":{"domain":[0,1000,1300,1500,3500,5000],"range":[206,109,101,52,40,1],"nice":false,"zero":false},"axis":null}}},
{"mark":{"type":"tick","size":8,"thickness":1.3,"color":"black"},"encoding":{"x":{"field":"g","type":"nominal","scale":{"type":"band","domain":["RHI-LVL","RHI-HVL","Progressors","LTNP","HC"],"paddingInner":0,"paddingOuter":0},"axis":null},"y":{"field":"lo","type":"quantitative","scale":{"domain":[0,1000,1300,1500,3500,5000],"range":[206,109,101,52,40,1],"nice":false,"zero":false},"axis":null}}},
{"mark":{"type":"tick","size":8,"thickness":1.3,"color":"black"},"encoding":{"x":{"field":"g","type":"nominal","scale":{"type":"band","domain":["RHI-LVL","RHI-HVL","Progressors","LTNP","HC"],"paddingInner":0,"paddingOuter":0},"axis":null},"y":{"field":"hi","type":"quantitative","scale":{"domain":[0,1000,1300,1500,3500,5000],"range":[206,109,101,52,40,1],"nice":false,"zero":false},"axis":null}}},
{"mark":{"type":"point","opacity":0},"encoding":{"x":{"field":"g","type":"nominal","scale":{"type":"band","domain":["RHI-LVL","RHI-HVL","Progressors","LTNP","HC"],"paddingInner":0,"paddingOuter":0},"axis":{"orient":"top","title":"NKp46","labels":false,"ticks":false,"domain":false,"titleX":52.5,"titleY":-3,"titleAlign":"center","titleBaseline":"alphabetic","titleFont":"Liberation Sans","titleFontSize":9.5,"titleFontWeight":"normal"}},"y":{"field":"lo","type":"quantitative","scale":{"domain":[0,1000,1300,1500,3500,5000],"range":[206,109,101,52,40,1],"nice":false,"zero":false},"axis":null}}}
]},
{"width":89,"height":10,"mark":{"type":"point","opacity":0},"view":{"stroke":null}},
{"width":154,"height":239,"transform":[{"filter":"datum.m==='NKG2D'"}],
"resolve":{"axis":{"x":"independent","y":"independent"}},
"layer":[
{"mark":{"type":"rule","color":"black","strokeWidth":1.3},"encoding":{"x":{"field":"g","type":"nominal","scale":{"type":"band","domain":["RHI-LVL","RHI-HVL","Progressors","LTNP","HC"],"paddingInner":0,"paddingOuter":0},"axis":{"title":null,"labelAngle":-45,"labelFont":"Liberation Serif","labelFontSize":10,"labelFontWeight":"bold","tickSize":3,"labelPadding":2}},"y":{"field":"lo","type":"quantitative","scale":{"domain":[0,1000,1001,5000],"range":[239,102,100,0],"nice":false,"zero":false},"axis":{"values":[0,200,400,600,800,1000,2000,3000,4000,5000],"format":"d","title":"Geometric Mean fluorescence intensity","titleFont":"Liberation Serif","titleFontSize":10,"titleFontWeight":"bold","titleX":-54,"titleY":102,"titleAlign":"center","titleBaseline":"middle","titleAngle":-90,"labelFont":"Liberation Sans","labelFontSize":7,"labelFontWeight":"bold","tickSize":3,"labelPadding":1}},"y2":{"field":"hi"}}},
{"mark":{"type":"bar","size":21},"encoding":{"x":{"field":"g","type":"nominal","scale":{"type":"band","domain":["RHI-LVL","RHI-HVL","Progressors","LTNP","HC"],"paddingInner":0,"paddingOuter":0},"axis":null},"y":{"field":"q1","type":"quantitative","scale":{"domain":[0,1000,1001,5000],"range":[239,102,100,0],"nice":false,"zero":false},"axis":null},"y2":{"field":"q3"},"color":{"field":"g","type":"nominal","scale":{"domain":["RHI-LVL","RHI-HVL","Progressors","LTNP","HC"],"range":["#e6e6e6","#8e8e8e","#ffffff","#ffffff","#ffffff"]},"legend":null}}},
{"transform":[{"filter":"datum.g==='Progressors'"}],"mark":{"type":"bar","size":21,"fill":{"gradient":"linear","x1":0,"y1":0,"x2":0,"y2":1,"stops":[{"offset":0,"color":"#fff"},{"offset":0.05,"color":"#fff"},{"offset":0.05,"color":"#777"},{"offset":0.0833,"color":"#777"},{"offset":0.0833,"color":"#fff"},{"offset":0.1333,"color":"#fff"},{"offset":0.1333,"color":"#777"},{"offset":0.1667,"color":"#777"},{"offset":0.1667,"color":"#fff"},{"offset":0.2167,"color":"#fff"},{"offset":0.2167,"color":"#777"},{"offset":0.25,"color":"#777"},{"offset":0.25,"color":"#fff"},{"offset":0.3,"color":"#fff"},{"offset":0.3,"color":"#777"},{"offset":0.3333,"color":"#777"},{"offset":0.3333,"color":"#fff"},{"offset":0.3833,"color":"#fff"},{"offset":0.3833,"color":"#777"},{"offset":0.4167,"color":"#777"},{"offset":0.4167,"color":"#fff"},{"offset":0.4667,"color":"#fff"},{"offset":0.4667,"color":"#777"},{"offset":0.5,"color":"#777"},{"offset":0.5,"color":"#fff"},{"offset":0.55,"color":"#fff"},{"offset":0.55,"color":"#777"},{"offset":0.5833,"color":"#777"},{"offset":0.5833,"color":"#fff"},{"offset":0.6333,"color":"#fff"},{"offset":0.6333,"color":"#777"},{"offset":0.6667,"color":"#777"},{"offset":0.6667,"color":"#fff"},{"offset":0.7167,"color":"#fff"},{"offset":0.7167,"color":"#777"},{"offset":0.75,"color":"#777"},{"offset":0.75,"color":"#fff"},{"offset":0.8,"color":"#fff"},{"offset":0.8,"color":"#777"},{"offset":0.8333,"color":"#777"},{"offset":0.8333,"color":"#fff"},{"offset":0.8833,"color":"#fff"},{"offset":0.8833,"color":"#777"},{"offset":0.9167,"color":"#777"},{"offset":0.9167,"color":"#fff"},{"offset":0.9667,"color":"#fff"},{"offset":0.9667,"color":"#777"},{"offset":1,"color":"#777"}]}},"encoding":{"x":{"field":"g","type":"nominal","scale":{"type":"band","domain":["RHI-LVL","RHI-HVL","Progressors","LTNP","HC"],"paddingInner":0,"paddingOuter":0},"axis":null},"y":{"field":"q1","type":"quantitative","scale":{"domain":[0,1000,1001,5000],"range":[239,102,100,0],"nice":false,"zero":false},"axis":null},"y2":{"field":"q3"}}},
{"transform":[{"filter":"datum.g==='HC'"}],"mark":{"type":"bar","size":21,"fill":{"gradient":"linear","x1":0,"y1":0,"x2":1,"y2":0,"stops":[{"offset":0,"color":"#fff"},{"offset":0.0917,"color":"#fff"},{"offset":0.0917,"color":"#666"},{"offset":0.1667,"color":"#666"},{"offset":0.1667,"color":"#fff"},{"offset":0.2583,"color":"#fff"},{"offset":0.2583,"color":"#666"},{"offset":0.3333,"color":"#666"},{"offset":0.3333,"color":"#fff"},{"offset":0.425,"color":"#fff"},{"offset":0.425,"color":"#666"},{"offset":0.5,"color":"#666"},{"offset":0.5,"color":"#fff"},{"offset":0.5917,"color":"#fff"},{"offset":0.5917,"color":"#666"},{"offset":0.6667,"color":"#666"},{"offset":0.6667,"color":"#fff"},{"offset":0.7583,"color":"#fff"},{"offset":0.7583,"color":"#666"},{"offset":0.8333,"color":"#666"},{"offset":0.8333,"color":"#fff"},{"offset":0.925,"color":"#fff"},{"offset":0.925,"color":"#666"},{"offset":1,"color":"#666"}]}},"encoding":{"x":{"field":"g","type":"nominal","scale":{"type":"band","domain":["RHI-LVL","RHI-HVL","Progressors","LTNP","HC"],"paddingInner":0,"paddingOuter":0},"axis":null},"y":{"field":"q1","type":"quantitative","scale":{"domain":[0,1000,1001,5000],"range":[239,102,100,0],"nice":false,"zero":false},"axis":null},"y2":{"field":"q3"}}},
{"transform":[{"filter":"datum.g==='LTNP'"}],"mark":{"type":"bar","size":21,"fill":{"gradient":"linear","x1":0,"y1":0,"x2":0,"y2":1,"stops":[{"offset":0,"color":"transparent"},{"offset":0.025,"color":"transparent"},{"offset":0.025,"color":"#111"},{"offset":0.05,"color":"#111"},{"offset":0.05,"color":"transparent"},{"offset":0.075,"color":"transparent"},{"offset":0.075,"color":"#111"},{"offset":0.1,"color":"#111"},{"offset":0.1,"color":"transparent"},{"offset":0.125,"color":"transparent"},{"offset":0.125,"color":"#111"},{"offset":0.15,"color":"#111"},{"offset":0.15,"color":"transparent"},{"offset":0.175,"color":"transparent"},{"offset":0.175,"color":"#111"},{"offset":0.2,"color":"#111"},{"offset":0.2,"color":"transparent"},{"offset":0.225,"color":"transparent"},{"offset":0.225,"color":"#111"},{"offset":0.25,"color":"#111"},{"offset":0.25,"color":"transparent"},{"offset":0.275,"color":"transparent"},{"offset":0.275,"color":"#111"},{"offset":0.3,"color":"#111"},{"offset":0.3,"color":"transparent"},{"offset":0.325,"color":"transparent"},{"offset":0.325,"color":"#111"},{"offset":0.35,"color":"#111"},{"offset":0.35,"color":"transparent"},{"offset":0.375,"color":"transparent"},{"offset":0.375,"color":"#111"},{"offset":0.4,"color":"#111"},{"offset":0.4,"color":"transparent"},{"offset":0.425,"color":"transparent"},{"offset":0.425,"color":"#111"},{"offset":0.45,"color":"#111"},{"offset":0.45,"color":"transparent"},{"offset":0.475,"color":"transparent"},{"offset":0.475,"color":"#111"},{"offset":0.5,"color":"#111"},{"offset":0.5,"color":"transparent"},{"offset":0.525,"color":"transparent"},{"offset":0.525,"color":"#111"},{"offset":0.55,"color":"#111"},{"offset":0.55,"color":"transparent"},{"offset":0.575,"color":"transparent"},{"offset":0.575,"color":"#111"},{"offset":0.6,"color":"#111"},{"offset":0.6,"color":"transparent"},{"offset":0.625,"color":"transparent"},{"offset":0.625,"color":"#111"},{"offset":0.65,"color":"#111"},{"offset":0.65,"color":"transparent"},{"offset":0.675,"color":"transparent"},{"offset":0.675,"color":"#111"},{"offset":0.7,"color":"#111"},{"offset":0.7,"color":"transparent"},{"offset":0.725,"color":"transparent"},{"offset":0.725,"color":"#111"},{"offset":0.75,"color":"#111"},{"offset":0.75,"color":"transparent"},{"offset":0.775,"color":"transparent"},{"offset":0.775,"color":"#111"},{"offset":0.8,"color":"#111"},{"offset":0.8,"color":"transparent"},{"offset":0.825,"color":"transparent"},{"offset":0.825,"color":"#111"},{"offset":0.85,"color":"#111"},{"offset":0.85,"color":"transparent"},{"offset":0.875,"color":"transparent"},{"offset":0.875,"color":"#111"},{"offset":0.9,"color":"#111"},{"offset":0.9,"color":"transparent"},{"offset":0.925,"color":"transparent"},{"offset":0.925,"color":"#111"},{"offset":0.95,"color":"#111"},{"offset":0.95,"color":"transparent"},{"offset":0.975,"color":"transparent"},{"offset":0.975,"color":"#111"},{"offset":1,"color":"#111"}]}},"encoding":{"x":{"field":"g","type":"nominal","scale":{"type":"band","domain":["RHI-LVL","RHI-HVL","Progressors","LTNP","HC"],"paddingInner":0,"paddingOuter":0},"axis":null},"y":{"field":"q1","type":"quantitative","scale":{"domain":[0,1000,1001,5000],"range":[239,102,100,0],"nice":false,"zero":false},"axis":null},"y2":{"field":"q3"}}},
{"transform":[{"filter":"datum.g==='LTNP'"}],"mark":{"type":"bar","size":21,"fill":{"gradient":"linear","x1":0,"y1":0,"x2":1,"y2":0,"stops":[{"offset":0,"color":"transparent"},{"offset":0.1,"color":"transparent"},{"offset":0.1,"color":"#111"},{"offset":0.2,"color":"#111"},{"offset":0.2,"color":"transparent"},{"offset":0.3,"color":"transparent"},{"offset":0.3,"color":"#111"},{"offset":0.4,"color":"#111"},{"offset":0.4,"color":"transparent"},{"offset":0.5,"color":"transparent"},{"offset":0.5,"color":"#111"},{"offset":0.6,"color":"#111"},{"offset":0.6,"color":"transparent"},{"offset":0.7,"color":"transparent"},{"offset":0.7,"color":"#111"},{"offset":0.8,"color":"#111"},{"offset":0.8,"color":"transparent"},{"offset":0.9,"color":"transparent"},{"offset":0.9,"color":"#111"},{"offset":1,"color":"#111"}]}},"encoding":{"x":{"field":"g","type":"nominal","scale":{"type":"band","domain":["RHI-LVL","RHI-HVL","Progressors","LTNP","HC"],"paddingInner":0,"paddingOuter":0},"axis":null},"y":{"field":"q1","type":"quantitative","scale":{"domain":[0,1000,1001,5000],"range":[239,102,100,0],"nice":false,"zero":false},"axis":null},"y2":{"field":"q3"}}},
{"mark":{"type":"bar","size":21,"fillOpacity":0,"stroke":"black","strokeWidth":1.2},"encoding":{"x":{"field":"g","type":"nominal","scale":{"type":"band","domain":["RHI-LVL","RHI-HVL","Progressors","LTNP","HC"],"paddingInner":0,"paddingOuter":0},"axis":null},"y":{"field":"q1","type":"quantitative","scale":{"domain":[0,1000,1001,5000],"range":[239,102,100,0],"nice":false,"zero":false},"axis":null},"y2":{"field":"q3"}}},
{"mark":{"type":"tick","size":21,"thickness":1.6,"color":"black"},"encoding":{"x":{"field":"g","type":"nominal","scale":{"type":"band","domain":["RHI-LVL","RHI-HVL","Progressors","LTNP","HC"],"paddingInner":0,"paddingOuter":0},"axis":null},"y":{"field":"med","type":"quantitative","scale":{"domain":[0,1000,1001,5000],"range":[239,102,100,0],"nice":false,"zero":false},"axis":null}}},
{"mark":{"type":"tick","size":10,"thickness":1.3,"color":"black"},"encoding":{"x":{"field":"g","type":"nominal","scale":{"type":"band","domain":["RHI-LVL","RHI-HVL","Progressors","LTNP","HC"],"paddingInner":0,"paddingOuter":0},"axis":null},"y":{"field":"lo","type":"quantitative","scale":{"domain":[0,1000,1001,5000],"range":[239,102,100,0],"nice":false,"zero":false},"axis":null}}},
{"mark":{"type":"tick","size":10,"thickness":1.3,"color":"black"},"encoding":{"x":{"field":"g","type":"nominal","scale":{"type":"band","domain":["RHI-LVL","RHI-HVL","Progressors","LTNP","HC"],"paddingInner":0,"paddingOuter":0},"axis":null},"y":{"field":"hi","type":"quantitative","scale":{"domain":[0,1000,1001,5000],"range":[239,102,100,0],"nice":false,"zero":false},"axis":null}}},
{"mark":{"type":"point","opacity":0},"encoding":{"x":{"field":"g","type":"nominal","scale":{"type":"band","domain":["RHI-LVL","RHI-HVL","Progressors","LTNP","HC"],"paddingInner":0,"paddingOuter":0},"axis":{"orient":"top","title":"NKG2D","labels":false,"ticks":false,"domain":false,"titleX":77,"titleY":-5,"titleAlign":"center","titleBaseline":"alphabetic","titleFont":"Liberation Sans","titleFontSize":11,"titleFontWeight":"bold"}},"y":{"field":"lo","type":"quantitative","scale":{"domain":[0,1000,1001,5000],"range":[239,102,100,0],"nice":false,"zero":false},"axis":{"orient":"right","title":"B","labels":false,"ticks":false,"domain":false,"titleAngle":0,"titleX":-211,"titleY":-11,"titleAlign":"left","titleBaseline":"alphabetic","titleFont":"Liberation Sans","titleFontSize":13,"titleFontWeight":"bold"}}}}
]},
{"width":154,"height":239,"transform":[{"filter":"datum.m==='NKG2C'"}],
"resolve":{"axis":{"x":"independent","y":"independent"}},
"layer":[
{"mark":{"type":"rule","color":"black","strokeWidth":1.3},"encoding":{"x":{"field":"g","type":"nominal","scale":{"type":"band","domain":["RHI-LVL","RHI-HVL","Progressors","LTNP","HC"],"paddingInner":0,"paddingOuter":0},"axis":{"title":null,"labelAngle":-45,"labelFont":"Liberation Serif","labelFontSize":10,"labelFontWeight":"bold","tickSize":3,"labelPadding":2}},"y":{"field":"lo","type":"quantitative","scale":{"domain":[0,1000,1001,5000],"range":[239,102,100,0],"nice":false,"zero":false},"axis":null},"y2":{"field":"hi"}}},
{"mark":{"type":"bar","size":21},"encoding":{"x":{"field":"g","type":"nominal","scale":{"type":"band","domain":["RHI-LVL","RHI-HVL","Progressors","LTNP","HC"],"paddingInner":0,"paddingOuter":0},"axis":null},"y":{"field":"q1","type":"quantitative","scale":{"domain":[0,1000,1001,5000],"range":[239,102,100,0],"nice":false,"zero":false},"axis":null},"y2":{"field":"q3"},"color":{"field":"g","type":"nominal","scale":{"domain":["RHI-LVL","RHI-HVL","Progressors","LTNP","HC"],"range":["#e6e6e6","#8e8e8e","#ffffff","#ffffff","#ffffff"]},"legend":null}}},
{"transform":[{"filter":"datum.g==='Progressors'"}],"mark":{"type":"bar","size":21,"fill":{"gradient":"linear","x1":0,"y1":0,"x2":0,"y2":1,"stops":[{"offset":0,"color":"#fff"},{"offset":0.05,"color":"#fff"},{"offset":0.05,"color":"#777"},{"offset":0.0833,"color":"#777"},{"offset":0.0833,"color":"#fff"},{"offset":0.1333,"color":"#fff"},{"offset":0.1333,"color":"#777"},{"offset":0.1667,"color":"#777"},{"offset":0.1667,"color":"#fff"},{"offset":0.2167,"color":"#fff"},{"offset":0.2167,"color":"#777"},{"offset":0.25,"color":"#777"},{"offset":0.25,"color":"#fff"},{"offset":0.3,"color":"#fff"},{"offset":0.3,"color":"#777"},{"offset":0.3333,"color":"#777"},{"offset":0.3333,"color":"#fff"},{"offset":0.3833,"color":"#fff"},{"offset":0.3833,"color":"#777"},{"offset":0.4167,"color":"#777"},{"offset":0.4167,"color":"#fff"},{"offset":0.4667,"color":"#fff"},{"offset":0.4667,"color":"#777"},{"offset":0.5,"color":"#777"},{"offset":0.5,"color":"#fff"},{"offset":0.55,"color":"#fff"},{"offset":0.55,"color":"#777"},{"offset":0.5833,"color":"#777"},{"offset":0.5833,"color":"#fff"},{"offset":0.6333,"color":"#fff"},{"offset":0.6333,"color":"#777"},{"offset":0.6667,"color":"#777"},{"offset":0.6667,"color":"#fff"},{"offset":0.7167,"color":"#fff"},{"offset":0.7167,"color":"#777"},{"offset":0.75,"color":"#777"},{"offset":0.75,"color":"#fff"},{"offset":0.8,"color":"#fff"},{"offset":0.8,"color":"#777"},{"offset":0.8333,"color":"#777"},{"offset":0.8333,"color":"#fff"},{"offset":0.8833,"color":"#fff"},{"offset":0.8833,"color":"#777"},{"offset":0.9167,"color":"#777"},{"offset":0.9167,"color":"#fff"},{"offset":0.9667,"color":"#fff"},{"offset":0.9667,"color":"#777"},{"offset":1,"color":"#777"}]}},"encoding":{"x":{"field":"g","type":"nominal","scale":{"type":"band","domain":["RHI-LVL","RHI-HVL","Progressors","LTNP","HC"],"paddingInner":0,"paddingOuter":0},"axis":null},"y":{"field":"q1","type":"quantitative","scale":{"domain":[0,1000,1001,5000],"range":[239,102,100,0],"nice":false,"zero":false},"axis":null},"y2":{"field":"q3"}}},
{"transform":[{"filter":"datum.g==='HC'"}],"mark":{"type":"bar","size":21,"fill":{"gradient":"linear","x1":0,"y1":0,"x2":1,"y2":0,"stops":[{"offset":0,"color":"#fff"},{"offset":0.0917,"color":"#fff"},{"offset":0.0917,"color":"#666"},{"offset":0.1667,"color":"#666"},{"offset":0.1667,"color":"#fff"},{"offset":0.2583,"color":"#fff"},{"offset":0.2583,"color":"#666"},{"offset":0.3333,"color":"#666"},{"offset":0.3333,"color":"#fff"},{"offset":0.425,"color":"#fff"},{"offset":0.425,"color":"#666"},{"offset":0.5,"color":"#666"},{"offset":0.5,"color":"#fff"},{"offset":0.5917,"color":"#fff"},{"offset":0.5917,"color":"#666"},{"offset":0.6667,"color":"#666"},{"offset":0.6667,"color":"#fff"},{"offset":0.7583,"color":"#fff"},{"offset":0.7583,"color":"#666"},{"offset":0.8333,"color":"#666"},{"offset":0.8333,"color":"#fff"},{"offset":0.925,"color":"#fff"},{"offset":0.925,"color":"#666"},{"offset":1,"color":"#666"}]}},"encoding":{"x":{"field":"g","type":"nominal","scale":{"type":"band","domain":["RHI-LVL","RHI-HVL","Progressors","LTNP","HC"],"paddingInner":0,"paddingOuter":0},"axis":null},"y":{"field":"q1","type":"quantitative","scale":{"domain":[0,1000,1001,5000],"range":[239,102,100,0],"nice":false,"zero":false},"axis":null},"y2":{"field":"q3"}}},
{"transform":[{"filter":"datum.g==='LTNP'"}],"mark":{"type":"bar","size":21,"fill":{"gradient":"linear","x1":0,"y1":0,"x2":0,"y2":1,"stops":[{"offset":0,"color":"transparent"},{"offset":0.025,"color":"transparent"},{"offset":0.025,"color":"#111"},{"offset":0.05,"color":"#111"},{"offset":0.05,"color":"transparent"},{"offset":0.075,"color":"transparent"},{"offset":0.075,"color":"#111"},{"offset":0.1,"color":"#111"},{"offset":0.1,"color":"transparent"},{"offset":0.125,"color":"transparent"},{"offset":0.125,"color":"#111"},{"offset":0.15,"color":"#111"},{"offset":0.15,"color":"transparent"},{"offset":0.175,"color":"transparent"},{"offset":0.175,"color":"#111"},{"offset":0.2,"color":"#111"},{"offset":0.2,"color":"transparent"},{"offset":0.225,"color":"transparent"},{"offset":0.225,"color":"#111"},{"offset":0.25,"color":"#111"},{"offset":0.25,"color":"transparent"},{"offset":0.275,"color":"transparent"},{"offset":0.275,"color":"#111"},{"offset":0.3,"color":"#111"},{"offset":0.3,"color":"transparent"},{"offset":0.325,"color":"transparent"},{"offset":0.325,"color":"#111"},{"offset":0.35,"color":"#111"},{"offset":0.35,"color":"transparent"},{"offset":0.375,"color":"transparent"},{"offset":0.375,"color":"#111"},{"offset":0.4,"color":"#111"},{"offset":0.4,"color":"transparent"},{"offset":0.425,"color":"transparent"},{"offset":0.425,"color":"#111"},{"offset":0.45,"color":"#111"},{"offset":0.45,"color":"transparent"},{"offset":0.475,"color":"transparent"},{"offset":0.475,"color":"#111"},{"offset":0.5,"color":"#111"},{"offset":0.5,"color":"transparent"},{"offset":0.525,"color":"transparent"},{"offset":0.525,"color":"#111"},{"offset":0.55,"color":"#111"},{"offset":0.55,"color":"transparent"},{"offset":0.575,"color":"transparent"},{"offset":0.575,"color":"#111"},{"offset":0.6,"color":"#111"},{"offset":0.6,"color":"transparent"},{"offset":0.625,"color":"transparent"},{"offset":0.625,"color":"#111"},{"offset":0.65,"color":"#111"},{"offset":0.65,"color":"transparent"},{"offset":0.675,"color":"transparent"},{"offset":0.675,"color":"#111"},{"offset":0.7,"color":"#111"},{"offset":0.7,"color":"transparent"},{"offset":0.725,"color":"transparent"},{"offset":0.725,"color":"#111"},{"offset":0.75,"color":"#111"},{"offset":0.75,"color":"transparent"},{"offset":0.775,"color":"transparent"},{"offset":0.775,"color":"#111"},{"offset":0.8,"color":"#111"},{"offset":0.8,"color":"transparent"},{"offset":0.825,"color":"transparent"},{"offset":0.825,"color":"#111"},{"offset":0.85,"color":"#111"},{"offset":0.85,"color":"transparent"},{"offset":0.875,"color":"transparent"},{"offset":0.875,"color":"#111"},{"offset":0.9,"color":"#111"},{"offset":0.9,"color":"transparent"},{"offset":0.925,"color":"transparent"},{"offset":0.925,"color":"#111"},{"offset":0.95,"color":"#111"},{"offset":0.95,"color":"transparent"},{"offset":0.975,"color":"transparent"},{"offset":0.975,"color":"#111"},{"offset":1,"color":"#111"}]}},"encoding":{"x":{"field":"g","type":"nominal","scale":{"type":"band","domain":["RHI-LVL","RHI-HVL","Progressors","LTNP","HC"],"paddingInner":0,"paddingOuter":0},"axis":null},"y":{"field":"q1","type":"quantitative","scale":{"domain":[0,1000,1001,5000],"range":[239,102,100,0],"nice":false,"zero":false},"axis":null},"y2":{"field":"q3"}}},
{"transform":[{"filter":"datum.g==='LTNP'"}],"mark":{"type":"bar","size":21,"fill":{"gradient":"linear","x1":0,"y1":0,"x2":1,"y2":0,"stops":[{"offset":0,"color":"transparent"},{"offset":0.1,"color":"transparent"},{"offset":0.1,"color":"#111"},{"offset":0.2,"color":"#111"},{"offset":0.2,"color":"transparent"},{"offset":0.3,"color":"transparent"},{"offset":0.3,"color":"#111"},{"offset":0.4,"color":"#111"},{"offset":0.4,"color":"transparent"},{"offset":0.5,"color":"transparent"},{"offset":0.5,"color":"#111"},{"offset":0.6,"color":"#111"},{"offset":0.6,"color":"transparent"},{"offset":0.7,"color":"transparent"},{"offset":0.7,"color":"#111"},{"offset":0.8,"color":"#111"},{"offset":0.8,"color":"transparent"},{"offset":0.9,"color":"transparent"},{"offset":0.9,"color":"#111"},{"offset":1,"color":"#111"}]}},"encoding":{"x":{"field":"g","type":"nominal","scale":{"type":"band","domain":["RHI-LVL","RHI-HVL","Progressors","LTNP","HC"],"paddingInner":0,"paddingOuter":0},"axis":null},"y":{"field":"q1","type":"quantitative","scale":{"domain":[0,1000,1001,5000],"range":[239,102,100,0],"nice":false,"zero":false},"axis":null},"y2":{"field":"q3"}}},
{"mark":{"type":"bar","size":21,"fillOpacity":0,"stroke":"black","strokeWidth":1.2},"encoding":{"x":{"field":"g","type":"nominal","scale":{"type":"band","domain":["RHI-LVL","RHI-HVL","Progressors","LTNP","HC"],"paddingInner":0,"paddingOuter":0},"axis":null},"y":{"field":"q1","type":"quantitative","scale":{"domain":[0,1000,1001,5000],"range":[239,102,100,0],"nice":false,"zero":false},"axis":null},"y2":{"field":"q3"}}},
{"mark":{"type":"tick","size":21,"thickness":1.6,"color":"black"},"encoding":{"x":{"field":"g","type":"nominal","scale":{"type":"band","domain":["RHI-LVL","RHI-HVL","Progressors","LTNP","HC"],"paddingInner":0,"paddingOuter":0},"axis":null},"y":{"field":"med","type":"quantitative","scale":{"domain":[0,1000,1001,5000],"range":[239,102,100,0],"nice":false,"zero":false},"axis":null}}},
{"mark":{"type":"tick","size":10,"thickness":1.3,"color":"black"},"encoding":{"x":{"field":"g","type":"nominal","scale":{"type":"band","domain":["RHI-LVL","RHI-HVL","Progressors","LTNP","HC"],"paddingInner":0,"paddingOuter":0},"axis":null},"y":{"field":"lo","type":"quantitative","scale":{"domain":[0,1000,1001,5000],"range":[239,102,100,0],"nice":false,"zero":false},"axis":null}}},
{"mark":{"type":"tick","size":10,"thickness":1.3,"color":"black"},"encoding":{"x":{"field":"g","type":"nominal","scale":{"type":"band","domain":["RHI-LVL","RHI-HVL","Progressors","LTNP","HC"],"paddingInner":0,"paddingOuter":0},"axis":null},"y":{"field":"hi","type":"quantitative","scale":{"domain":[0,1000,1001,5000],"range":[239,102,100,0],"nice":false,"zero":false},"axis":null}}},
{"mark":{"type":"point","opacity":0},"encoding":{"x":{"field":"g","type":"nominal","scale":{"type":"band","domain":["RHI-LVL","RHI-HVL","Progressors","LTNP","HC"],"paddingInner":0,"paddingOuter":0},"axis":{"orient":"top","title":"NKG2C","labels":false,"ticks":false,"domain":false,"titleX":77,"titleY":-5,"titleAlign":"center","titleBaseline":"alphabetic","titleFont":"Liberation Sans","titleFontSize":11,"titleFontWeight":"bold"}},"y":{"field":"lo","type":"quantitative","scale":{"domain":[0,1000,1001,5000],"range":[239,102,100,0],"nice":false,"zero":false},"axis":null}}}
]}
]},
{"spacing":0,"bounds":"flush","hconcat":[
{"width":191,"height":10,"mark":{"type":"point","opacity":0},"view":{"stroke":null}},
{"width":157,"height":188,"transform":[{"filter":"datum.m==='HLA DR'"}],
"resolve":{"axis":{"x":"independent","y":"independent"}},
"layer":[
{"mark":{"type":"rule","color":"black","strokeWidth":1.3},"encoding":{"x":{"field":"g","type":"nominal","scale":{"type":"band","domain":["RHI-LVL","RHI-HVL","Progressors","LTNP","HC"],"paddingInner":0,"paddingOuter":0},"axis":{"title":null,"labelAngle":-45,"labelFont":"Liberation Sans","labelFontSize":7,"labelFontWeight":"bold","tickSize":3,"labelPadding":2}},"y":{"field":"lo","type":"quantitative","scale":{"domain":[0,1500],"nice":false,"zero":false},"axis":{"values":[0,500,1000,1500],"format":"d","title":"Geometric Mean fluorescence intensity","titleFont":"Liberation Serif","titleFontSize":9,"titleFontWeight":"bold","titleX":-47,"titleY":79,"titleAlign":"center","titleBaseline":"middle","titleAngle":-90,"labelFont":"Liberation Sans","labelFontSize":7,"labelFontWeight":"bold","tickSize":3,"labelPadding":1}},"y2":{"field":"hi"}}},
{"mark":{"type":"bar","size":21},"encoding":{"x":{"field":"g","type":"nominal","scale":{"type":"band","domain":["RHI-LVL","RHI-HVL","Progressors","LTNP","HC"],"paddingInner":0,"paddingOuter":0},"axis":null},"y":{"field":"q1","type":"quantitative","scale":{"domain":[0,1500],"nice":false,"zero":false},"axis":null},"y2":{"field":"q3"},"color":{"field":"g","type":"nominal","scale":{"domain":["RHI-LVL","RHI-HVL","Progressors","LTNP","HC"],"range":["#e6e6e6","#8e8e8e","#ffffff","#ffffff","#ffffff"]},"legend":null}}},
{"transform":[{"filter":"datum.g==='Progressors'"}],"mark":{"type":"bar","size":21,"fill":{"gradient":"linear","x1":0,"y1":0,"x2":0,"y2":1,"stops":[{"offset":0,"color":"#fff"},{"offset":0.05,"color":"#fff"},{"offset":0.05,"color":"#777"},{"offset":0.0833,"color":"#777"},{"offset":0.0833,"color":"#fff"},{"offset":0.1333,"color":"#fff"},{"offset":0.1333,"color":"#777"},{"offset":0.1667,"color":"#777"},{"offset":0.1667,"color":"#fff"},{"offset":0.2167,"color":"#fff"},{"offset":0.2167,"color":"#777"},{"offset":0.25,"color":"#777"},{"offset":0.25,"color":"#fff"},{"offset":0.3,"color":"#fff"},{"offset":0.3,"color":"#777"},{"offset":0.3333,"color":"#777"},{"offset":0.3333,"color":"#fff"},{"offset":0.3833,"color":"#fff"},{"offset":0.3833,"color":"#777"},{"offset":0.4167,"color":"#777"},{"offset":0.4167,"color":"#fff"},{"offset":0.4667,"color":"#fff"},{"offset":0.4667,"color":"#777"},{"offset":0.5,"color":"#777"},{"offset":0.5,"color":"#fff"},{"offset":0.55,"color":"#fff"},{"offset":0.55,"color":"#777"},{"offset":0.5833,"color":"#777"},{"offset":0.5833,"color":"#fff"},{"offset":0.6333,"color":"#fff"},{"offset":0.6333,"color":"#777"},{"offset":0.6667,"color":"#777"},{"offset":0.6667,"color":"#fff"},{"offset":0.7167,"color":"#fff"},{"offset":0.7167,"color":"#777"},{"offset":0.75,"color":"#777"},{"offset":0.75,"color":"#fff"},{"offset":0.8,"color":"#fff"},{"offset":0.8,"color":"#777"},{"offset":0.8333,"color":"#777"},{"offset":0.8333,"color":"#fff"},{"offset":0.8833,"color":"#fff"},{"offset":0.8833,"color":"#777"},{"offset":0.9167,"color":"#777"},{"offset":0.9167,"color":"#fff"},{"offset":0.9667,"color":"#fff"},{"offset":0.9667,"color":"#777"},{"offset":1,"color":"#777"}]}},"encoding":{"x":{"field":"g","type":"nominal","scale":{"type":"band","domain":["RHI-LVL","RHI-HVL","Progressors","LTNP","HC"],"paddingInner":0,"paddingOuter":0},"axis":null},"y":{"field":"q1","type":"quantitative","scale":{"domain":[0,1500],"nice":false,"zero":false},"axis":null},"y2":{"field":"q3"}}},
{"transform":[{"filter":"datum.g==='HC'"}],"mark":{"type":"bar","size":21,"fill":{"gradient":"linear","x1":0,"y1":0,"x2":1,"y2":0,"stops":[{"offset":0,"color":"#fff"},{"offset":0.0917,"color":"#fff"},{"offset":0.0917,"color":"#666"},{"offset":0.1667,"color":"#666"},{"offset":0.1667,"color":"#fff"},{"offset":0.2583,"color":"#fff"},{"offset":0.2583,"color":"#666"},{"offset":0.3333,"color":"#666"},{"offset":0.3333,"color":"#fff"},{"offset":0.425,"color":"#fff"},{"offset":0.425,"color":"#666"},{"offset":0.5,"color":"#666"},{"offset":0.5,"color":"#fff"},{"offset":0.5917,"color":"#fff"},{"offset":0.5917,"color":"#666"},{"offset":0.6667,"color":"#666"},{"offset":0.6667,"color":"#fff"},{"offset":0.7583,"color":"#fff"},{"offset":0.7583,"color":"#666"},{"offset":0.8333,"color":"#666"},{"offset":0.8333,"color":"#fff"},{"offset":0.925,"color":"#fff"},{"offset":0.925,"color":"#666"},{"offset":1,"color":"#666"}]}},"encoding":{"x":{"field":"g","type":"nominal","scale":{"type":"band","domain":["RHI-LVL","RHI-HVL","Progressors","LTNP","HC"],"paddingInner":0,"paddingOuter":0},"axis":null},"y":{"field":"q1","type":"quantitative","scale":{"domain":[0,1500],"nice":false,"zero":false},"axis":null},"y2":{"field":"q3"}}},
{"transform":[{"filter":"datum.g==='LTNP'"}],"mark":{"type":"bar","size":21,"fill":{"gradient":"linear","x1":0,"y1":0,"x2":0,"y2":1,"stops":[{"offset":0,"color":"transparent"},{"offset":0.05,"color":"transparent"},{"offset":0.05,"color":"#111"},{"offset":0.1,"color":"#111"},{"offset":0.1,"color":"transparent"},{"offset":0.15,"color":"transparent"},{"offset":0.15,"color":"#111"},{"offset":0.2,"color":"#111"},{"offset":0.2,"color":"transparent"},{"offset":0.25,"color":"transparent"},{"offset":0.25,"color":"#111"},{"offset":0.3,"color":"#111"},{"offset":0.3,"color":"transparent"},{"offset":0.35,"color":"transparent"},{"offset":0.35,"color":"#111"},{"offset":0.4,"color":"#111"},{"offset":0.4,"color":"transparent"},{"offset":0.45,"color":"transparent"},{"offset":0.45,"color":"#111"},{"offset":0.5,"color":"#111"},{"offset":0.5,"color":"transparent"},{"offset":0.55,"color":"transparent"},{"offset":0.55,"color":"#111"},{"offset":0.6,"color":"#111"},{"offset":0.6,"color":"transparent"},{"offset":0.65,"color":"transparent"},{"offset":0.65,"color":"#111"},{"offset":0.7,"color":"#111"},{"offset":0.7,"color":"transparent"},{"offset":0.75,"color":"transparent"},{"offset":0.75,"color":"#111"},{"offset":0.8,"color":"#111"},{"offset":0.8,"color":"transparent"},{"offset":0.85,"color":"transparent"},{"offset":0.85,"color":"#111"},{"offset":0.9,"color":"#111"},{"offset":0.9,"color":"transparent"},{"offset":0.95,"color":"transparent"},{"offset":0.95,"color":"#111"},{"offset":1,"color":"#111"}]}},"encoding":{"x":{"field":"g","type":"nominal","scale":{"type":"band","domain":["RHI-LVL","RHI-HVL","Progressors","LTNP","HC"],"paddingInner":0,"paddingOuter":0},"axis":null},"y":{"field":"q1","type":"quantitative","scale":{"domain":[0,1500],"nice":false,"zero":false},"axis":null},"y2":{"field":"q3"}}},
{"transform":[{"filter":"datum.g==='LTNP'"}],"mark":{"type":"bar","size":21,"fill":{"gradient":"linear","x1":0,"y1":0,"x2":1,"y2":0,"stops":[{"offset":0,"color":"transparent"},{"offset":0.1,"color":"transparent"},{"offset":0.1,"color":"#111"},{"offset":0.2,"color":"#111"},{"offset":0.2,"color":"transparent"},{"offset":0.3,"color":"transparent"},{"offset":0.3,"color":"#111"},{"offset":0.4,"color":"#111"},{"offset":0.4,"color":"transparent"},{"offset":0.5,"color":"transparent"},{"offset":0.5,"color":"#111"},{"offset":0.6,"color":"#111"},{"offset":0.6,"color":"transparent"},{"offset":0.7,"color":"transparent"},{"offset":0.7,"color":"#111"},{"offset":0.8,"color":"#111"},{"offset":0.8,"color":"transparent"},{"offset":0.9,"color":"transparent"},{"offset":0.9,"color":"#111"},{"offset":1,"color":"#111"}]}},"encoding":{"x":{"field":"g","type":"nominal","scale":{"type":"band","domain":["RHI-LVL","RHI-HVL","Progressors","LTNP","HC"],"paddingInner":0,"paddingOuter":0},"axis":null},"y":{"field":"q1","type":"quantitative","scale":{"domain":[0,1500],"nice":false,"zero":false},"axis":null},"y2":{"field":"q3"}}},
{"mark":{"type":"bar","size":21,"fillOpacity":0,"stroke":"black","strokeWidth":1.2},"encoding":{"x":{"field":"g","type":"nominal","scale":{"type":"band","domain":["RHI-LVL","RHI-HVL","Progressors","LTNP","HC"],"paddingInner":0,"paddingOuter":0},"axis":null},"y":{"field":"q1","type":"quantitative","scale":{"domain":[0,1500],"nice":false,"zero":false},"axis":null},"y2":{"field":"q3"}}},
{"mark":{"type":"tick","size":21,"thickness":1.6,"color":"black"},"encoding":{"x":{"field":"g","type":"nominal","scale":{"type":"band","domain":["RHI-LVL","RHI-HVL","Progressors","LTNP","HC"],"paddingInner":0,"paddingOuter":0},"axis":null},"y":{"field":"med","type":"quantitative","scale":{"domain":[0,1500],"nice":false,"zero":false},"axis":null}}},
{"mark":{"type":"tick","size":11,"thickness":1.3,"color":"black"},"encoding":{"x":{"field":"g","type":"nominal","scale":{"type":"band","domain":["RHI-LVL","RHI-HVL","Progressors","LTNP","HC"],"paddingInner":0,"paddingOuter":0},"axis":null},"y":{"field":"lo","type":"quantitative","scale":{"domain":[0,1500],"nice":false,"zero":false},"axis":null}}},
{"mark":{"type":"tick","size":11,"thickness":1.3,"color":"black"},"encoding":{"x":{"field":"g","type":"nominal","scale":{"type":"band","domain":["RHI-LVL","RHI-HVL","Progressors","LTNP","HC"],"paddingInner":0,"paddingOuter":0},"axis":null},"y":{"field":"hi","type":"quantitative","scale":{"domain":[0,1500],"nice":false,"zero":false},"axis":null}}},
{"mark":{"type":"point","opacity":0},"encoding":{"x":{"field":"g","type":"nominal","scale":{"type":"band","domain":["RHI-LVL","RHI-HVL","Progressors","LTNP","HC"],"paddingInner":0,"paddingOuter":0},"axis":{"orient":"top","title":"HLA DR","labels":false,"ticks":false,"domain":false,"titleX":78.5,"titleY":-2,"titleAlign":"center","titleBaseline":"alphabetic","titleFont":"Liberation Sans","titleFontSize":10.5,"titleFontWeight":"normal"}},"y":{"field":"lo","type":"quantitative","scale":{"domain":[0,1500],"nice":false,"zero":false},"axis":{"orient":"right","title":"C","labels":false,"ticks":false,"domain":false,"titleAngle":0,"titleX":-210,"titleY":-41,"titleAlign":"left","titleBaseline":"alphabetic","titleFont":"Liberation Sans","titleFontSize":13,"titleFontWeight":"bold"}}}}
]},
{"width":157,"height":188,"transform":[{"filter":"datum.m==='CD69'"}],
"resolve":{"axis":{"x":"independent","y":"independent"}},
"layer":[
{"mark":{"type":"rule","color":"black","strokeWidth":1.3},"encoding":{"x":{"field":"g","type":"nominal","scale":{"type":"band","domain":["RHI-LVL","RHI-HVL","Progressors","LTNP","HC"],"paddingInner":0,"paddingOuter":0},"axis":{"title":null,"labelAngle":-45,"labelFont":"Liberation Sans","labelFontSize":7,"labelFontWeight":"bold","tickSize":3,"labelPadding":2}},"y":{"field":"lo","type":"quantitative","scale":{"domain":[0,1500],"nice":false,"zero":false},"axis":null},"y2":{"field":"hi"}}},
{"mark":{"type":"bar","size":21},"encoding":{"x":{"field":"g","type":"nominal","scale":{"type":"band","domain":["RHI-LVL","RHI-HVL","Progressors","LTNP","HC"],"paddingInner":0,"paddingOuter":0},"axis":null},"y":{"field":"q1","type":"quantitative","scale":{"domain":[0,1500],"nice":false,"zero":false},"axis":null},"y2":{"field":"q3"},"color":{"field":"g","type":"nominal","scale":{"domain":["RHI-LVL","RHI-HVL","Progressors","LTNP","HC"],"range":["#e6e6e6","#8e8e8e","#ffffff","#ffffff","#ffffff"]},"legend":null}}},
{"transform":[{"filter":"datum.g==='Progressors'"}],"mark":{"type":"bar","size":21,"fill":{"gradient":"linear","x1":0,"y1":0,"x2":0,"y2":1,"stops":[{"offset":0,"color":"#fff"},{"offset":0.05,"color":"#fff"},{"offset":0.05,"color":"#777"},{"offset":0.0833,"color":"#777"},{"offset":0.0833,"color":"#fff"},{"offset":0.1333,"color":"#fff"},{"offset":0.1333,"color":"#777"},{"offset":0.1667,"color":"#777"},{"offset":0.1667,"color":"#fff"},{"offset":0.2167,"color":"#fff"},{"offset":0.2167,"color":"#777"},{"offset":0.25,"color":"#777"},{"offset":0.25,"color":"#fff"},{"offset":0.3,"color":"#fff"},{"offset":0.3,"color":"#777"},{"offset":0.3333,"color":"#777"},{"offset":0.3333,"color":"#fff"},{"offset":0.3833,"color":"#fff"},{"offset":0.3833,"color":"#777"},{"offset":0.4167,"color":"#777"},{"offset":0.4167,"color":"#fff"},{"offset":0.4667,"color":"#fff"},{"offset":0.4667,"color":"#777"},{"offset":0.5,"color":"#777"},{"offset":0.5,"color":"#fff"},{"offset":0.55,"color":"#fff"},{"offset":0.55,"color":"#777"},{"offset":0.5833,"color":"#777"},{"offset":0.5833,"color":"#fff"},{"offset":0.6333,"color":"#fff"},{"offset":0.6333,"color":"#777"},{"offset":0.6667,"color":"#777"},{"offset":0.6667,"color":"#fff"},{"offset":0.7167,"color":"#fff"},{"offset":0.7167,"color":"#777"},{"offset":0.75,"color":"#777"},{"offset":0.75,"color":"#fff"},{"offset":0.8,"color":"#fff"},{"offset":0.8,"color":"#777"},{"offset":0.8333,"color":"#777"},{"offset":0.8333,"color":"#fff"},{"offset":0.8833,"color":"#fff"},{"offset":0.8833,"color":"#777"},{"offset":0.9167,"color":"#777"},{"offset":0.9167,"color":"#fff"},{"offset":0.9667,"color":"#fff"},{"offset":0.9667,"color":"#777"},{"offset":1,"color":"#777"}]}},"encoding":{"x":{"field":"g","type":"nominal","scale":{"type":"band","domain":["RHI-LVL","RHI-HVL","Progressors","LTNP","HC"],"paddingInner":0,"paddingOuter":0},"axis":null},"y":{"field":"q1","type":"quantitative","scale":{"domain":[0,1500],"nice":false,"zero":false},"axis":null},"y2":{"field":"q3"}}},
{"transform":[{"filter":"datum.g==='HC'"}],"mark":{"type":"bar","size":21,"fill":{"gradient":"linear","x1":0,"y1":0,"x2":1,"y2":0,"stops":[{"offset":0,"color":"#fff"},{"offset":0.0917,"color":"#fff"},{"offset":0.0917,"color":"#666"},{"offset":0.1667,"color":"#666"},{"offset":0.1667,"color":"#fff"},{"offset":0.2583,"color":"#fff"},{"offset":0.2583,"color":"#666"},{"offset":0.3333,"color":"#666"},{"offset":0.3333,"color":"#fff"},{"offset":0.425,"color":"#fff"},{"offset":0.425,"color":"#666"},{"offset":0.5,"color":"#666"},{"offset":0.5,"color":"#fff"},{"offset":0.5917,"color":"#fff"},{"offset":0.5917,"color":"#666"},{"offset":0.6667,"color":"#666"},{"offset":0.6667,"color":"#fff"},{"offset":0.7583,"color":"#fff"},{"offset":0.7583,"color":"#666"},{"offset":0.8333,"color":"#666"},{"offset":0.8333,"color":"#fff"},{"offset":0.925,"color":"#fff"},{"offset":0.925,"color":"#666"},{"offset":1,"color":"#666"}]}},"encoding":{"x":{"field":"g","type":"nominal","scale":{"type":"band","domain":["RHI-LVL","RHI-HVL","Progressors","LTNP","HC"],"paddingInner":0,"paddingOuter":0},"axis":null},"y":{"field":"q1","type":"quantitative","scale":{"domain":[0,1500],"nice":false,"zero":false},"axis":null},"y2":{"field":"q3"}}},
{"transform":[{"filter":"datum.g==='LTNP'"}],"mark":{"type":"bar","size":21,"fill":{"gradient":"linear","x1":0,"y1":0,"x2":0,"y2":1,"stops":[{"offset":0,"color":"transparent"},{"offset":0.25,"color":"transparent"},{"offset":0.25,"color":"#111"},{"offset":0.5,"color":"#111"},{"offset":0.5,"color":"transparent"},{"offset":0.75,"color":"transparent"},{"offset":0.75,"color":"#111"},{"offset":1,"color":"#111"}]}},"encoding":{"x":{"field":"g","type":"nominal","scale":{"type":"band","domain":["RHI-LVL","RHI-HVL","Progressors","LTNP","HC"],"paddingInner":0,"paddingOuter":0},"axis":null},"y":{"field":"q1","type":"quantitative","scale":{"domain":[0,1500],"nice":false,"zero":false},"axis":null},"y2":{"field":"q3"}}},
{"transform":[{"filter":"datum.g==='LTNP'"}],"mark":{"type":"bar","size":21,"fill":{"gradient":"linear","x1":0,"y1":0,"x2":1,"y2":0,"stops":[{"offset":0,"color":"transparent"},{"offset":0.1,"color":"transparent"},{"offset":0.1,"color":"#111"},{"offset":0.2,"color":"#111"},{"offset":0.2,"color":"transparent"},{"offset":0.3,"color":"transparent"},{"offset":0.3,"color":"#111"},{"offset":0.4,"color":"#111"},{"offset":0.4,"color":"transparent"},{"offset":0.5,"color":"transparent"},{"offset":0.5,"color":"#111"},{"offset":0.6,"color":"#111"},{"offset":0.6,"color":"transparent"},{"offset":0.7,"color":"transparent"},{"offset":0.7,"color":"#111"},{"offset":0.8,"color":"#111"},{"offset":0.8,"color":"transparent"},{"offset":0.9,"color":"transparent"},{"offset":0.9,"color":"#111"},{"offset":1,"color":"#111"}]}},"encoding":{"x":{"field":"g","type":"nominal","scale":{"type":"band","domain":["RHI-LVL","RHI-HVL","Progressors","LTNP","HC"],"paddingInner":0,"paddingOuter":0},"axis":null},"y":{"field":"q1","type":"quantitative","scale":{"domain":[0,1500],"nice":false,"zero":false},"axis":null},"y2":{"field":"q3"}}},
{"mark":{"type":"bar","size":21,"fillOpacity":0,"stroke":"black","strokeWidth":1.2},"encoding":{"x":{"field":"g","type":"nominal","scale":{"type":"band","domain":["RHI-LVL","RHI-HVL","Progressors","LTNP","HC"],"paddingInner":0,"paddingOuter":0},"axis":null},"y":{"field":"q1","type":"quantitative","scale":{"domain":[0,1500],"nice":false,"zero":false},"axis":null},"y2":{"field":"q3"}}},
{"mark":{"type":"tick","size":21,"thickness":1.6,"color":"black"},"encoding":{"x":{"field":"g","type":"nominal","scale":{"type":"band","domain":["RHI-LVL","RHI-HVL","Progressors","LTNP","HC"],"paddingInner":0,"paddingOuter":0},"axis":null},"y":{"field":"med","type":"quantitative","scale":{"domain":[0,1500],"nice":false,"zero":false},"axis":null}}},
{"mark":{"type":"tick","size":11,"thickness":1.3,"color":"black"},"encoding":{"x":{"field":"g","type":"nominal","scale":{"type":"band","domain":["RHI-LVL","RHI-HVL","Progressors","LTNP","HC"],"paddingInner":0,"paddingOuter":0},"axis":null},"y":{"field":"lo","type":"quantitative","scale":{"domain":[0,1500],"nice":false,"zero":false},"axis":null}}},
{"mark":{"type":"tick","size":11,"thickness":1.3,"color":"black"},"encoding":{"x":{"field":"g","type":"nominal","scale":{"type":"band","domain":["RHI-LVL","RHI-HVL","Progressors","LTNP","HC"],"paddingInner":0,"paddingOuter":0},"axis":null},"y":{"field":"hi","type":"quantitative","scale":{"domain":[0,1500],"nice":false,"zero":false},"axis":null}}},
{"mark":{"type":"point","opacity":0},"encoding":{"x":{"field":"g","type":"nominal","scale":{"type":"band","domain":["RHI-LVL","RHI-HVL","Progressors","LTNP","HC"],"paddingInner":0,"paddingOuter":0},"axis":{"orient":"top","title":"CD69","labels":false,"ticks":false,"domain":false,"titleX":78.5,"titleY":-2,"titleAlign":"center","titleBaseline":"alphabetic","titleFont":"Liberation Sans","titleFontSize":10.5,"titleFontWeight":"normal"}},"y":{"field":"lo","type":"quantitative","scale":{"domain":[0,1500],"nice":false,"zero":false},"axis":{"orient":"right","title":"Early activation markers","labels":false,"ticks":false,"domain":false,"titleAngle":0,"titleX":-321,"titleY":-29,"titleAlign":"left","titleBaseline":"alphabetic","titleFont":"Liberation Serif","titleFontSize":8,"titleFontWeight":"bold"}}}}
]}
]}
],
"config":{
"view":{"stroke":"#8a8a8a","strokeWidth":1},
"axis":{"domainColor":"black","tickColor":"black","labelColor":"black","titleColor":"black","grid":false,"domainWidth":1,"tickWidth":1},
"font":"Liberation Sans"
}
}
